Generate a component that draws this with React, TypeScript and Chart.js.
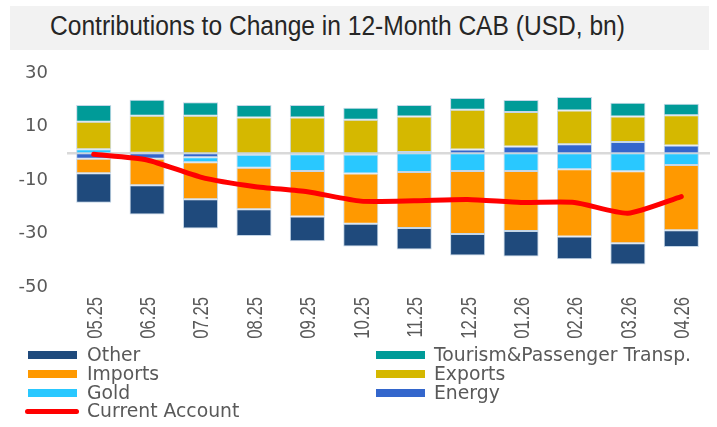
import React, { useEffect, useRef } from 'react';
import { Chart, registerables } from 'chart.js';

Chart.register(...registerables);

const title = 'Contributions to Change in 12-Month CAB (USD, bn)';
const categories = ['05.25', '06.25', '07.25', '08.25', '09.25', '10.25', '11.25', '12.25', '01.26', '02.26', '03.26', '04.26'];
const energy = [-2.1, -2.1, -1.5, -0.6, -0.4, -0.5, 0.5, 1.4, 2.5, 3.4, 4.25, 2.9];
const gold = [1.5, 0.2, -1.9, -4.8, -6.2, -7.1, -7.0, -6.6, -6.6, -6.0, -6.75, -4.4];
const exportsVals = [10.25, 13.8, 14.0, 13.4, 13.4, 12.5, 13.25, 14.9, 12.9, 12.6, 9.5, 11.35];
const imports = [-5.4, -9.9, -13.75, -15.5, -17.0, -18.8, -20.9, -23.6, -22.5, -25.1, -26.9, -24.4];
const tourism = [6.25, 6.0, 5.1, 4.6, 4.6, 4.5, 4.25, 4.35, 4.5, 5.0, 5.15, 4.25];
const other = [-11.0, -10.9, -11.0, -10.0, -9.3, -8.5, -8.1, -8.0, -9.5, -8.5, -7.9, -6.25];
const currentAccount = [-0.4, -2.5, -8.9, -12.4, -14.4, -17.9, -17.8, -17.3, -18.4, -18.4, -22.4, -16.2];
const yTicks = [-50, -30, -10, 10, 30];

const COLORS = {
  other: '#1F4A7C',
  tourism: '#009B98',
  imports: '#FF9900',
  exports: '#D5B800',
  gold: '#29C8FF',
  energy: '#3366CC',
  ca: '#FF0000',
};

const legendItems = [
  { label: 'Other', color: COLORS.other, col: 0, row: 0 },
  { label: 'Tourism&Passenger Transp.', color: COLORS.tourism, col: 1, row: 0 },
  { label: 'Imports', color: COLORS.imports, col: 0, row: 1 },
  { label: 'Exports', color: COLORS.exports, col: 1, row: 1 },
  { label: 'Gold', color: COLORS.gold, col: 0, row: 2 },
  { label: 'Energy', color: COLORS.energy, col: 1, row: 2 },
  { label: 'Current Account', color: COLORS.ca, col: 0, row: 3, line: true },
];

const zeroLine = {
  id: 'zeroLine',
  beforeDatasetsDraw(chart: any) {
    const { ctx, chartArea, scales } = chart;
    const y = scales.y.getPixelForValue(0);
    ctx.save();
    ctx.strokeStyle = '#D9D9D9';
    ctx.lineWidth = 2.5;
    ctx.beginPath();
    ctx.moveTo(chartArea.left, y);
    ctx.lineTo(chartArea.right + 2, y);
    ctx.stroke();
    ctx.restore();
  },
};

// Draws condensed, rotated category labels at the x scale's tick positions
const condensedXLabels = {
  id: 'condensedXLabels',
  afterDraw(chart: any) {
    const { ctx, chartArea, scales } = chart;
    const xs = scales.x;
    ctx.save();
    ctx.fillStyle = '#595959';
    ctx.font = "22px 'Liberation Sans', Arial, sans-serif";
    ctx.textAlign = 'right';
    ctx.textBaseline = 'alphabetic';
    const labels = chart.data.labels as string[];
    labels.forEach((lab, i) => {
      const x = xs.getPixelForValue(i);
      ctx.save();
      ctx.translate(x, chartArea.bottom + 10);
      ctx.rotate(-Math.PI / 2);
      ctx.scale(0.76, 1);
      ctx.fillText(lab, 0, 7.9);
      ctx.restore();
    });
    ctx.restore();
  },
};

export default function App() {
  const canvasRef = useRef<HTMLCanvasElement | null>(null);

  useEffect(() => {
    document.body.style.margin = '0';
    const bar = (label: string, data: number[], color: string) => ({
      type: 'bar' as const,
      label,
      data,
      backgroundColor: color,
      borderColor: 'rgba(190,210,228,0.9)',
      borderWidth: 1,
      borderSkipped: false,
      barPercentage: 0.9,
      categoryPercentage: 0.73,
      order: 1,
    });
    const chart = new Chart(canvasRef.current as HTMLCanvasElement, {
      type: 'bar',
      data: {
        labels: categories,
        datasets: [
          bar('Energy', energy, COLORS.energy),
          bar('Gold', gold, COLORS.gold),
          bar('Exports', exportsVals, COLORS.exports),
          bar('Imports', imports, COLORS.imports),
          bar('Tourism&Passenger Transp.', tourism, COLORS.tourism),
          bar('Other', other, COLORS.other),
          {
            type: 'line' as const,
            label: 'Current Account',
            data: currentAccount,
            borderColor: COLORS.ca,
            backgroundColor: COLORS.ca,
            borderWidth: 5,
            pointRadius: 0,
            tension: 0.2,
            borderCapStyle: 'round',
            borderJoinStyle: 'round',
            order: 0,
          } as any,
        ],
      },
      options: {
        responsive: false,
        maintainAspectRatio: false,
        animation: false,
        devicePixelRatio: 1,
        layout: { padding: { top: 73, right: 9, left: 0, bottom: 0 } },
        plugins: { legend: { display: false }, tooltip: { enabled: false } },
        scales: {
          x: {
            stacked: true,
            grid: { display: false, drawTicks: false },
            border: { display: false },
            afterFit: (s: any) => { s.height = 58; },
            ticks: { display: false },
          },
          y: {
            stacked: true,
            min: -50,
            max: 30,
            grid: { display: false, drawTicks: false },
            border: { display: false },
            afterFit: (s: any) => { s.width = 67; },
            afterBuildTicks: (s: any) => { s.ticks = yTicks.map((v) => ({ value: v })); },
            ticks: {
              padding: 19,
              color: '#595959',
              font: { family: "'DejaVu Sans', sans-serif", size: 18 },
            },
          },
        },
      },
      plugins: [zeroLine, condensedXLabels],
    } as any);
    return () => chart.destroy();
  }, []);

  const rowY = [355, 374, 393, 411];
  return (
    <div style={{ position: 'relative', width: 717, height: 427, background: '#fff', overflow: 'hidden' }}>
      <div
        style={{
          position: 'absolute', left: 10, top: 6, width: 699, height: 44, background: '#F2F2F2',
        }}
      />
      <div
        style={{
          position: 'absolute', left: 50, top: 8, height: 36, lineHeight: '36px',
          fontFamily: "'Liberation Sans', Arial, sans-serif", fontSize: 27, color: '#262626',
          whiteSpace: 'nowrap', transform: 'scaleX(0.91)', transformOrigin: 'left center',
        }}
      >
        {title}
      </div>
      <canvas ref={canvasRef} width={717} height={345} style={{ position: 'absolute', left: 0, top: 0, width: 717, height: 345 }} />
      {legendItems.map((it) => {
        const boxLeft = it.col === 0 ? 28 : 376;
        const textLeft = it.col === 0 ? 87 : 434;
        const cy = rowY[it.row];
        return (
          <React.Fragment key={it.label}>
            {it.line ? (
              <div style={{ position: 'absolute', left: 25, top: cy - 2.5, width: 54, height: 5, borderRadius: 3, background: it.color }} />
            ) : (
              <div style={{ position: 'absolute', left: boxLeft, top: cy - 4, width: 49, height: 8, background: it.color }} />
            )}
            <div
              style={{
                position: 'absolute', left: textLeft, top: cy - 11, height: 22, lineHeight: '22px',
                fontFamily: "'DejaVu Sans', sans-serif", fontSize: 18.8, color: '#595959', whiteSpace: 'nowrap',
              }}
            >
              {it.label}
            </div>
          </React.Fragment>
        );
      })}
    </div>
  );
}
